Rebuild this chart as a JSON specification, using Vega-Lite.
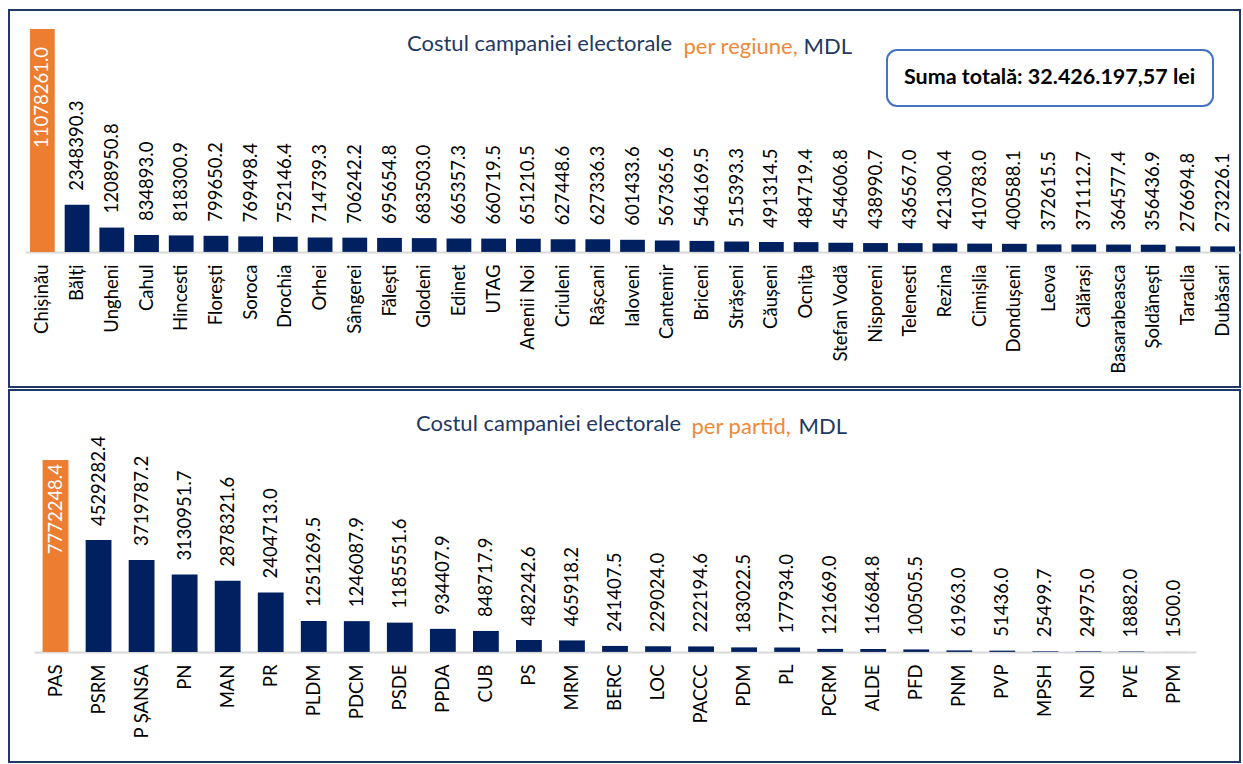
{
  "$schema": "https://vega.github.io/schema/vega-lite/v6.json",
  "padding": {"left": 8, "top": 9, "right": 0, "bottom": 0},
  "background": "white",
  "spacing": 1,
  "config": {
    "font": "Lato",
    "view": {"stroke": "#1F3864", "strokeWidth": 2},
    "legend": {"strokeWidth": 2}
  },
  "resolve": {"scale": {"color": "independent", "x": "independent", "y": "independent"}, "legend": {"color": "independent"}},
  "vconcat": [
    {
      "width": 1231,
      "height": 377,
      "data": {"values": [
        {"regiune": "Chișinău", "cost": 11078261.0, "grup": "principal"},
        {"regiune": "Bălți", "cost": 2348390.3, "grup": "altele"},
        {"regiune": "Ungheni", "cost": 1208950.8, "grup": "altele"},
        {"regiune": "Cahul", "cost": 834893.0, "grup": "altele"},
        {"regiune": "Hincesti", "cost": 818300.9, "grup": "altele"},
        {"regiune": "Florești", "cost": 799650.2, "grup": "altele"},
        {"regiune": "Soroca", "cost": 769498.4, "grup": "altele"},
        {"regiune": "Drochia", "cost": 752146.4, "grup": "altele"},
        {"regiune": "Orhei", "cost": 714739.3, "grup": "altele"},
        {"regiune": "Sângerei", "cost": 706242.2, "grup": "altele"},
        {"regiune": "Fălești", "cost": 695654.8, "grup": "altele"},
        {"regiune": "Glodeni", "cost": 683503.0, "grup": "altele"},
        {"regiune": "Edinet", "cost": 665357.3, "grup": "altele"},
        {"regiune": "UTAG", "cost": 660719.5, "grup": "altele"},
        {"regiune": "Anenii Noi", "cost": 651210.5, "grup": "altele"},
        {"regiune": "Criuleni", "cost": 627448.6, "grup": "altele"},
        {"regiune": "Râșcani", "cost": 627336.3, "grup": "altele"},
        {"regiune": "Ialoveni", "cost": 601433.6, "grup": "altele"},
        {"regiune": "Cantemir", "cost": 567365.6, "grup": "altele"},
        {"regiune": "Briceni", "cost": 546169.5, "grup": "altele"},
        {"regiune": "Strășeni", "cost": 515393.3, "grup": "altele"},
        {"regiune": "Căușeni", "cost": 491314.5, "grup": "altele"},
        {"regiune": "Ocnița", "cost": 484719.4, "grup": "altele"},
        {"regiune": "Stefan Vodă", "cost": 454606.8, "grup": "altele"},
        {"regiune": "Nisporeni", "cost": 438990.7, "grup": "altele"},
        {"regiune": "Telenesti", "cost": 436567.0, "grup": "altele"},
        {"regiune": "Rezina", "cost": 421300.4, "grup": "altele"},
        {"regiune": "Cimișlia", "cost": 410783.0, "grup": "altele"},
        {"regiune": "Dondușeni", "cost": 400588.1, "grup": "altele"},
        {"regiune": "Leova", "cost": 372615.5, "grup": "altele"},
        {"regiune": "Călărași", "cost": 371112.7, "grup": "altele"},
        {"regiune": "Basarabeasca", "cost": 364577.4, "grup": "altele"},
        {"regiune": "Șoldănești", "cost": 356436.9, "grup": "altele"},
        {"regiune": "Taraclia", "cost": 276694.8, "grup": "altele"},
        {"regiune": "Dubăsari", "cost": 273226.1, "grup": "altele"}
      ]},
      "title": {"text": "Costul campaniei electorale", "anchor": "start", "frame": "group", "dx": 398, "offset": -46, "color": "#1F3864", "fontSize": 22, "fontWeight": "normal", "font": "Lato"},
      "encoding": {
        "x": {
          "field": "regiune", "type": "nominal", "sort": null,
          "scale": {"range": [16, 1231], "paddingInner": 0.286, "paddingOuter": 0.143},
          "axis": {
            "title": "per regiune,", "titleColor": "#F0883A", "titleFont": "Lato", "titleFontSize": 22, "titleFontWeight": "normal",
            "titleAngle": 0, "titleAlign": "left", "titleBaseline": "alphabetic", "titleX": 674, "titleY": -199,
            "labelAngle": -90, "labelFontSize": 18.5, "labelColor": "black", "labelPadding": 12, "labelOverlap": false, "labelFont": "Lato",
            "ticks": false, "domainColor": "#D9D9D9", "domainWidth": 2, "offset": -135, "grid": false
          }
        },
        "y": {
          "field": "cost", "type": "quantitative",
          "scale": {"domain": [-6716000, 12023000], "nice": false, "zero": false},
          "axis": {"title": "MDL", "titleColor": "#1F3864", "titleFont": "Lato", "titleFontSize": 22, "titleFontWeight": "normal",
            "titleAngle": 0, "titleAlign": "left", "titleBaseline": "alphabetic", "titleX": 794, "titleY": 43,
            "labels": false, "ticks": false, "domain": false, "grid": false}
        }
      },
      "layer": [
        {
          "mark": {"type": "bar"},
          "encoding": {
            "y2": {"datum": 0},
            "color": {
              "field": "grup", "type": "nominal",
              "scale": {"domain": ["principal", "altele"], "range": ["#ED7D31", "#002060"]},
              "legend": {"values": [], "title": "Suma totală: 32.426.197,57 lei", "orient": "none", "legendX": 878, "legendY": 40,
                "titleFont": "Lato", "titleFontWeight": "bold", "titleFontSize": 21.5, "titleColor": "black", "titlePadding": 0, "titleLimit": 600,
                "strokeColor": "#4472C4", "cornerRadius": 10, "padding": 17, "fillColor": "white"}
            }
          }
        },
        {
          "transform": [{"filter": "datum.grup != 'principal'"}],
          "mark": {"type": "text", "angle": 270, "align": "left", "baseline": "middle", "dx": 14, "fontSize": 18.5, "color": "black", "font": "Lato"},
          "encoding": {"text": {"field": "cost", "type": "quantitative", "format": ".1f"}}
        },
        {
          "transform": [{"filter": "datum.grup == 'principal'"}],
          "mark": {"type": "text", "angle": 270, "align": "right", "baseline": "middle", "dx": -18, "fontSize": 18.5, "color": "white", "font": "Lato"},
          "encoding": {"text": {"field": "cost", "type": "quantitative", "format": ".1f"}}
        }
      ]
    },
    {
      "width": 1231,
      "height": 372,
      "data": {"values": [
        {"partid": "PAS", "cost": 7772248.4, "grup": "principal"},
        {"partid": "PSRM", "cost": 4529282.4, "grup": "altele"},
        {"partid": "P ȘANSA", "cost": 3719787.2, "grup": "altele"},
        {"partid": "PN", "cost": 3130951.7, "grup": "altele"},
        {"partid": "MAN", "cost": 2878321.6, "grup": "altele"},
        {"partid": "PR", "cost": 2404713.0, "grup": "altele"},
        {"partid": "PLDM", "cost": 1251269.5, "grup": "altele"},
        {"partid": "PDCM", "cost": 1246087.9, "grup": "altele"},
        {"partid": "PSDE", "cost": 1185551.6, "grup": "altele"},
        {"partid": "PPDA", "cost": 934407.9, "grup": "altele"},
        {"partid": "CUB", "cost": 848717.9, "grup": "altele"},
        {"partid": "PS", "cost": 482242.6, "grup": "altele"},
        {"partid": "MRM", "cost": 465918.2, "grup": "altele"},
        {"partid": "BERC", "cost": 241407.5, "grup": "altele"},
        {"partid": "LOC", "cost": 229024.0, "grup": "altele"},
        {"partid": "PACCC", "cost": 222194.6, "grup": "altele"},
        {"partid": "PDM", "cost": 183022.5, "grup": "altele"},
        {"partid": "PL", "cost": 177934.0, "grup": "altele"},
        {"partid": "PCRM", "cost": 121669.0, "grup": "altele"},
        {"partid": "ALDE", "cost": 116684.8, "grup": "altele"},
        {"partid": "PFD", "cost": 100505.5, "grup": "altele"},
        {"partid": "PNM", "cost": 61963.0, "grup": "altele"},
        {"partid": "PVP", "cost": 51436.0, "grup": "altele"},
        {"partid": "MPSH", "cost": 25499.7, "grup": "altele"},
        {"partid": "NOI", "cost": 24975.0, "grup": "altele"},
        {"partid": "PVE", "cost": 18882.0, "grup": "altele"},
        {"partid": "PPM", "cost": 1500.0, "grup": "altele"}
      ]},
      "title": {"text": "Costul campaniei electorale", "anchor": "start", "frame": "group", "dx": 407, "offset": -46, "color": "#1F3864", "fontSize": 22, "fontWeight": "normal", "font": "Lato"},
      "encoding": {
        "x": {
          "field": "partid", "type": "nominal", "sort": null,
          "scale": {"range": [25, 1187], "paddingInner": 0.4, "paddingOuter": 0.2},
          "axis": {
            "title": "per partid,", "titleColor": "#F0883A", "titleFont": "Lato", "titleFontSize": 22, "titleFontWeight": "normal",
            "titleAngle": 0, "titleAlign": "left", "titleBaseline": "alphabetic", "titleX": 682, "titleY": -219,
            "labelAngle": -90, "labelFontSize": 18.5, "labelColor": "black", "labelPadding": 12, "labelOverlap": false, "labelFont": "Lato",
            "ticks": false, "domainColor": "#D9D9D9", "domainWidth": 2, "offset": -110, "grid": false
          }
        },
        "y": {
          "field": "cost", "type": "quantitative",
          "scale": {"domain": [-4460000, 10610000], "nice": false, "zero": false},
          "axis": {"title": "MDL", "titleColor": "#1F3864", "titleFont": "Lato", "titleFontSize": 22, "titleFontWeight": "normal",
            "titleAngle": 0, "titleAlign": "left", "titleBaseline": "alphabetic", "titleX": 789, "titleY": 43,
            "labels": false, "ticks": false, "domain": false, "grid": false}
        }
      },
      "layer": [
        {
          "mark": {"type": "bar"},
          "encoding": {
            "y2": {"datum": 0},
            "color": {
              "field": "grup", "type": "nominal",
              "scale": {"domain": ["principal", "altele"], "range": ["#ED7D31", "#002060"]},
              "legend": null
            }
          }
        },
        {
          "transform": [{"filter": "datum.grup != 'principal'"}],
          "mark": {"type": "text", "angle": 270, "align": "left", "baseline": "middle", "dx": 14, "fontSize": 18.5, "color": "black", "font": "Lato"},
          "encoding": {"text": {"field": "cost", "type": "quantitative", "format": ".1f"}}
        },
        {
          "transform": [{"filter": "datum.grup == 'principal'"}],
          "mark": {"type": "text", "angle": 270, "align": "right", "baseline": "middle", "dx": -4, "fontSize": 18.5, "color": "white", "font": "Lato"},
          "encoding": {"text": {"field": "cost", "type": "quantitative", "format": ".1f"}}
        }
      ]
    }
  ]
}
